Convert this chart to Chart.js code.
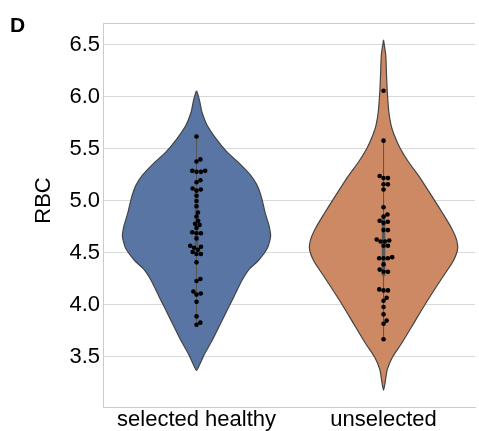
<!DOCTYPE html>
<html>
<head>
<meta charset="utf-8">
<script src="https://cdn.jsdelivr.net/npm/chart.js@4.4.1/dist/chart.umd.min.js"></script>
<style>
  html, body { margin: 0; padding: 0; background: #fff; }
  #wrap { width: 479px; height: 431px; }
</style>
</head>
<body>
<div id="wrap"><canvas id="myChart"></canvas></div>
<script>
const categories = ['selected healthy', 'unselected'];
const yTicks = [3.5, 4.0, 4.5, 5.0, 5.5, 6.0, 6.5];

// RBC per sample
const healthyRbc = [5.62, 5.40, 5.38, 5.29, 5.28, 5.28, 5.29, 5.20, 5.18, 5.11, 5.10, 5.12,
  5.05, 5.00, 4.95, 4.89, 4.85, 4.81, 4.78, 4.77, 4.74, 4.69, 4.69, 4.70, 4.64, 4.57, 4.56,
  4.55, 4.53, 4.51, 4.49, 4.49, 4.41, 4.25, 4.23, 4.13, 4.11, 4.10, 4.03, 3.89, 3.83, 3.81];
const unselectedRbc = [6.06, 5.58, 5.24, 5.22, 5.22, 5.16, 5.16, 5.11, 4.94, 4.87, 4.85, 4.81,
  4.80, 4.79, 4.72, 4.72, 4.63, 4.62, 4.61, 4.61, 4.57, 4.57, 4.46, 4.45, 4.45, 4.45, 4.39,
  4.34, 4.32, 4.32, 4.15, 4.14, 4.14, 4.07, 4.04, 3.98, 3.91, 3.85, 3.82, 3.67];

// violin outlines: RBC value and relative density (1 = widest)
const healthyKdeY = [6.06, 6.02, 5.95, 5.86, 5.73, 5.60, 5.47, 5.35, 5.25, 5.15, 5.03, 4.88,
  4.76, 4.66, 4.55, 4.43, 4.34, 4.24, 4.08, 3.98, 3.82, 3.66, 3.52, 3.44, 3.37];
const healthyKdeD = [0, 0.02, 0.045, 0.07, 0.14, 0.26, 0.41, 0.59, 0.72, 0.81, 0.87, 0.92,
  0.97, 0.99, 0.95, 0.83, 0.70, 0.61, 0.50, 0.43, 0.32, 0.21, 0.10, 0.05, 0];
const unselectedKdeY = [6.55, 6.40, 6.21, 6.05, 5.86, 5.73, 5.64, 5.51, 5.38, 5.22, 5.03, 4.87,
  4.75, 4.64, 4.54, 4.42, 4.30, 4.18, 4.00, 3.82, 3.63, 3.50, 3.38, 3.25, 3.18];
const unselectedKdeD = [0, 0.03, 0.04, 0.05, 0.07, 0.10, 0.14, 0.22, 0.33, 0.49, 0.66, 0.80,
  0.90, 0.97, 0.99, 0.93, 0.82, 0.71, 0.55, 0.40, 0.24, 0.12, 0.05, 0.02, 0];

const HALF = 0.4;
const colors = ['#5975a4', '#cc8963'];
const edge = '#444444';
const FONT = '"Liberation Sans", Arial, sans-serif';

function outline(idx, ys, ds) {
  const left = ys.map((y, i) => ({x: idx - HALF * ds[i], y: y}));
  const right = ys.slice(0, -1).map((y, i) => ({x: idx + HALF * ds[i], y: y})).reverse();
  return left.concat(right);
}

function quantile(vals, q) {
  const s = vals.slice().sort((a, b) => a - b);
  const pos = (s.length - 1) * q;
  const lo = Math.floor(pos);
  return s[lo] + (s[Math.min(lo + 1, s.length - 1)] - s[lo]) * (pos - lo);
}

function boxStats(vals) {
  const q1 = quantile(vals, 0.25), q3 = quantile(vals, 0.75);
  const iqr = q3 - q1;
  const inside = vals.filter(v => v >= q1 - 1.5 * iqr && v <= q3 + 1.5 * iqr);
  return {q1: q1, q3: q3, lo: Math.min(...inside), hi: Math.max(...inside)};
}

const groups = [healthyRbc, unselectedRbc];
const kdes = [[healthyKdeY, healthyKdeD], [unselectedKdeY, unselectedKdeD]];

const datasets = [];
groups.forEach((vals, idx) => {
  datasets.push({
    data: vals.map(v => ({x: idx, y: v})),
    showLine: false, pointRadius: 2.3, pointBackgroundColor: '#000', pointBorderWidth: 0,
    order: 0
  });
  const st = boxStats(vals);
  datasets.push({
    data: [{x: idx, y: st.q1}, {x: idx, y: st.q3}],
    borderColor: '#5a5a5a', borderWidth: 3.5, pointRadius: 0, order: 1
  });
  datasets.push({
    data: [{x: idx, y: st.lo}, {x: idx, y: st.hi}],
    borderColor: '#555555', borderWidth: 1, pointRadius: 0, order: 2
  });
  datasets.push({
    data: outline(idx, kdes[idx][0], kdes[idx][1]),
    borderColor: edge, borderWidth: 1.2, backgroundColor: colors[idx],
    fill: 'shape', tension: 0.2, pointRadius: 0, order: 3
  });
});

const frameAndText = {
  id: 'frameAndText',
  beforeDatasetsDraw(chart) {
    const {ctx, chartArea} = chart;
    ctx.save();
    ctx.strokeStyle = '#cccccc';
    ctx.lineWidth = 1;
    ctx.beginPath();
    ctx.moveTo(chartArea.left, chartArea.top + 0.5);
    ctx.lineTo(chartArea.right, chartArea.top + 0.5);
    ctx.stroke();
    ctx.restore();
  },
  afterDraw(chart) {
    const ctx = chart.ctx;
    ctx.save();
    ctx.fillStyle = '#000';
    ctx.font = 'bold 21px ' + FONT;
    ctx.textBaseline = 'alphabetic';
    ctx.fillText('D', 10, 32);
    ctx.translate(43.5, 200.5);
    ctx.rotate(-Math.PI / 2);
    ctx.font = '22px ' + FONT;
    ctx.textAlign = 'center';
    ctx.textBaseline = 'middle';
    ctx.fillText('RBC', 0, 0);
    ctx.restore();
  }
};

const chart = new Chart(document.getElementById('myChart').getContext('2d'), {
  type: 'line',
  data: {datasets: datasets},
  options: {
    responsive: true,
    maintainAspectRatio: false,
    animation: false,
    events: [],
    layout: {padding: {top: 23, left: 0, right: 0, bottom: 0}},
    plugins: {legend: {display: false}, tooltip: {enabled: false}},
    scales: {
      x: {
        type: 'linear', min: -0.5, max: 1.489,
        afterBuildTicks: s => { s.ticks = categories.map((c, i) => ({value: i})); },
        afterFit: s => { s.height = 24; },
        ticks: {
          callback: v => categories[v], color: '#000', padding: 0,
          font: {family: FONT, size: 22}, maxRotation: 0, autoSkip: false
        },
        grid: {display: false, drawTicks: false},
        border: {display: true, color: '#cccccc'}
      },
      y: {
        type: 'linear', min: 3.019, max: 6.7115,
        afterBuildTicks: s => { s.ticks = yTicks.map(v => ({value: v})); },
        afterFit: s => { s.width = 103; },
        ticks: {
          callback: v => v.toFixed(1), color: '#000', padding: 3,
          font: {family: FONT, size: 22}
        },
        grid: {color: '#d9d9d9', lineWidth: 1, drawTicks: false},
        border: {display: true, color: '#cccccc'}
      }
    }
  },
  plugins: [frameAndText]
});

// beeswarm layout of the points, done in pixel space
function swarm() {
  const xs = chart.scales.x, ys = chart.scales.y;
  const d = 4.4;
  groups.forEach((vals, idx) => {
    const cx = xs.getPixelForValue(idx);
    const placed = [];
    const out = new Array(vals.length);
    const order = vals.map((v, i) => i).sort((a, b) => vals[a] - vals[b]);
    order.forEach(i => {
      const py = ys.getPixelForValue(vals[i]);
      const cands = [0];
      placed.forEach(p => {
        const dy = py - p.y;
        if (Math.abs(dy) < d) {
          const dx = Math.sqrt(d * d - dy * dy);
          cands.push(p.x + dx, p.x - dx);
        }
      });
      cands.sort((a, b) => Math.abs(a) - Math.abs(b));
      const ok = cands.find(c => placed.every(p => (p.x - c) ** 2 + (p.y - py) ** 2 >= d * d - 0.01));
      placed.push({x: ok, y: py});
      out[i] = {x: xs.getValueForPixel(cx + ok), y: vals[i]};
    });
    chart.data.datasets[idx * 4].data = out;
  });
  chart.update('none');
}
swarm();
</script>
</body>
</html>
